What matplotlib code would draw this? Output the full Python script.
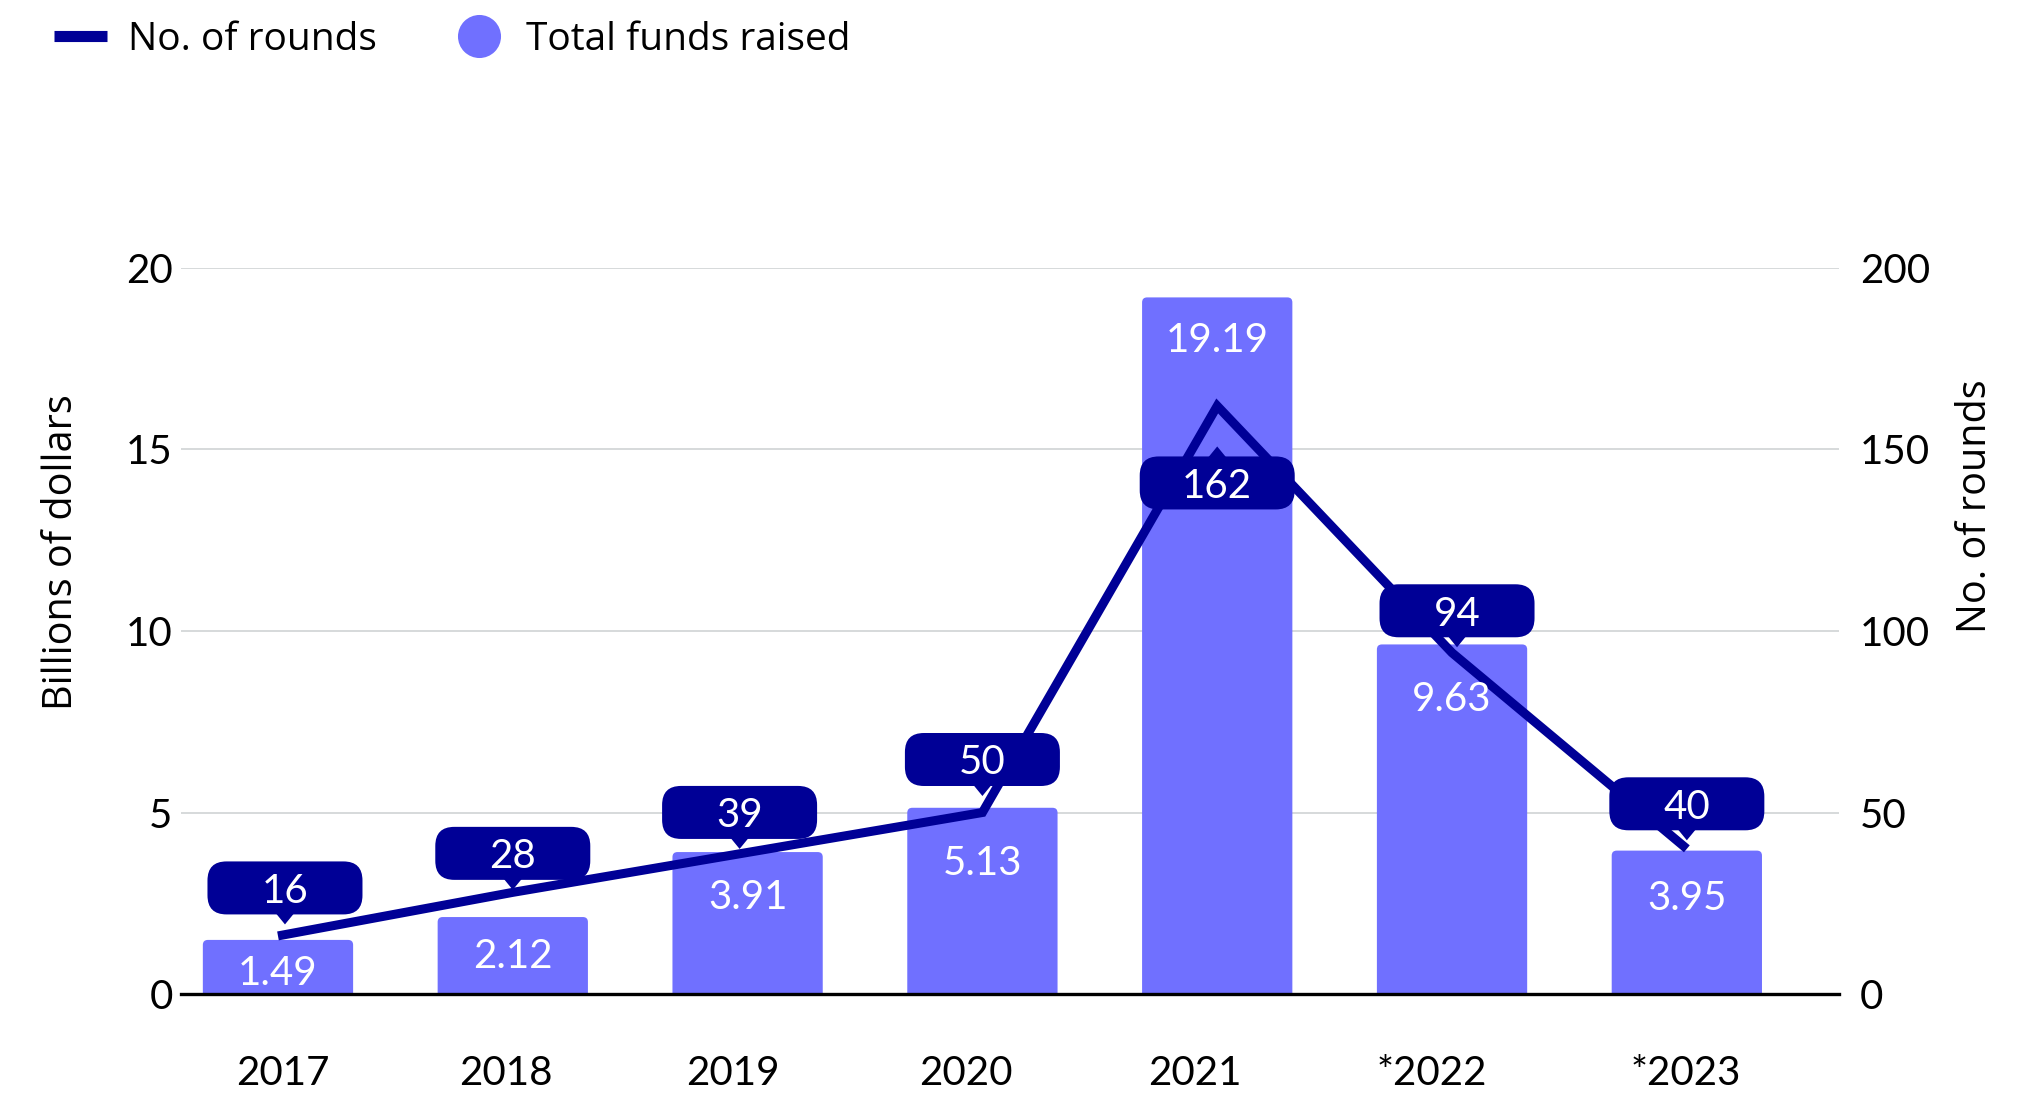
import matplotlib
matplotlib.use("Agg")
import matplotlib.pyplot as plt
import numpy as np
from matplotlib.patches import FancyBboxPatch, Polygon
from matplotlib.lines import Line2D
from matplotlib.transforms import ScaledTranslation

# ---- data -------------------------------------------------------------
years = ["2017", "2018", "2019", "2020", "2021", "*2022", "*2023"]
funds_billion = [1.49, 2.12, 3.91, 5.13, 19.19, 9.63, 3.95]
rounds = [16, 28, 39, 50, 162, 94, 40]

left_ticks = [0, 5, 10, 15, 20]
right_ticks = [0, 50, 100, 150, 200]

# ---- style ------------------------------------------------------------
BAR_COLOR = "#7070ff"
NAVY = "#000096"
GRID = "#cfd3d4"
NUM_FONT = ["Lato", "DejaVu Sans"]
TXT_FONT = ["Open Sans", "DejaVu Sans"]
plt.rcParams["font.family"] = NUM_FONT

# vertical offset (px) of each round-count callout from its point
# (negative = callout sits below the point) and small horizontal nudges
callout_offset_px = [48, 39, 40, 53, -77, 42, 45]
callout_dx_px = [7, 0, -8, 0, 0, 5, 0]
# distance (px) of each funding label below its bar top
bar_label_drop_px = [30, 36, 42, 52, 40, 52, 44]
# horizontal nudges (px) of the year labels
year_dx_px = [5, -7, -15, -17, -22, -20, -1]

W, H, DPI = 2028, 1096, 100
fig = plt.figure(figsize=(W / DPI, H / DPI), dpi=DPI)
L, R, T, B = 181, 1839, 268, 994
ax = fig.add_axes([L / W, 1 - B / H, (R - L) / W, (B - T) / H])
ax2 = ax.twinx()

x = np.arange(len(years))
ax.set_xlim(-0.413, 6.648)
ax.set_ylim(0, 20)
ax2.set_ylim(0, 200)

# ---- bars with softly rounded tops -------------------------------------
bars = ax.bar(x, funds_billion, width=0.64, color=BAR_COLOR, zorder=2)
sx = ax.transData.transform((1, 0))[0] - ax.transData.transform((0, 0))[0]
sy = ax.transData.transform((0, 1))[1] - ax.transData.transform((0, 0))[1]
corner_px = 5
for b in bars:
    b.set_visible(False)
    ext = 8 / sy  # push the bottom corners below the baseline (clipped)
    p = FancyBboxPatch((b.get_x(), -ext), b.get_width(), b.get_height() + ext,
                       boxstyle=f"round,pad=0,rounding_size={corner_px / sx}",
                       mutation_aspect=sx / sy, fc=BAR_COLOR, ec="none",
                       zorder=2)
    ax.add_patch(p)

# ---- axes styling ------------------------------------------------------
ax.set_axisbelow(True)
ax.yaxis.grid(True, color=GRID, lw=1.2)
ax.xaxis.grid(False)
for s in ["top", "left", "right"]:
    ax.spines[s].set_visible(False)
ax.spines["bottom"].set_linewidth(2.4)
ax.spines["bottom"].set_color("black")
for s in ax2.spines.values():
    s.set_visible(False)

ax.set_xticks(x)
ax.set_xticklabels(years)
ax.set_yticks(left_ticks)
ax2.set_yticks(right_ticks)
ax.tick_params(axis="x", length=0, pad=44, labelsize=29)
ax.tick_params(axis="y", length=0, pad=6, labelsize=29)
ax2.tick_params(axis="y", length=0, pad=15, labelsize=29)
for tick, dx in zip(ax.xaxis.get_major_ticks(), year_dx_px):
    lbl = tick.label1
    lbl.set_transform(lbl.get_transform()
                      + ScaledTranslation(dx / DPI, 0, fig.dpi_scale_trans))

ax.set_ylabel("Billions of dollars", fontsize=28.5, family=TXT_FONT)
ax.yaxis.set_label_coords(-0.0718, 0.609)
ax.yaxis.label.set_va("center")
ax2.set_ylabel("No. of rounds", fontsize=28.5, family=TXT_FONT)
ax2.yaxis.set_label_coords(1.0826, 0.672)
ax2.yaxis.label.set_va("center")
ax2.yaxis.label.set_rotation(90)

# ---- line for the number of rounds --------------------------------------
ax2.plot(x, rounds, color=NAVY, lw=6.5, solid_joinstyle="miter",
         solid_capstyle="butt", zorder=3)

# ---- funding labels inside the bars -------------------------------------
for xi, v, drop in zip(x, funds_billion, bar_label_drop_px):
    t = fig.dpi_scale_trans + ScaledTranslation(xi, v, ax.transData)
    ax2.text(0, -drop / DPI, f"{v:.2f}", transform=t, ha="center",
             va="center_baseline", color="white", fontsize=29, zorder=6)

# ---- callouts for the number of rounds ----------------------------------
box_w, box_h, box_r = 1.55, 0.53, 0.19
ptr_w, ptr_h = 0.18, 0.10
for xi, v, off, dx in zip(x, rounds, callout_offset_px, callout_dx_px):
    t = fig.dpi_scale_trans + ScaledTranslation(xi, v, ax2.transData)
    oc, cx = off / DPI, dx / DPI
    box = FancyBboxPatch((cx - box_w / 2, oc - box_h / 2), box_w, box_h,
                         boxstyle=f"round,pad=0,rounding_size={box_r}",
                         transform=t, fc=NAVY, ec="none", zorder=4)
    ax2.add_patch(box)
    if off > 0:
        yb = oc - box_h / 2
        tri = [(cx - ptr_w / 2, yb + 0.01), (cx + ptr_w / 2, yb + 0.01),
               (cx, yb - ptr_h)]
    else:
        yt = oc + box_h / 2
        tri = [(cx - ptr_w / 2, yt - 0.01), (cx + ptr_w / 2, yt - 0.01),
               (cx, yt + ptr_h)]
    ax2.add_patch(Polygon(tri, closed=True, transform=t, fc=NAVY, ec="none",
                          zorder=4))
    ax2.text(cx, oc, str(v), transform=t, ha="center", va="center_baseline",
             color="white", fontsize=29, zorder=5)

# ---- legend --------------------------------------------------------------
handles = [
    Line2D([], [], color=NAVY, lw=8, solid_capstyle="butt"),
    Line2D([], [], marker="o", ls="none", ms=31, mfc=BAR_COLOR, mec="none"),
]
fig.legend(handles, ["No. of rounds", "Total funds raised"],
           loc="center left", bbox_to_anchor=(54 / W, 1 - 40 / H),
           ncol=2, frameon=False, handlelength=1.35,
           handletextpad=0.55, columnspacing=1.95, borderpad=0,
           borderaxespad=0, prop={"family": TXT_FONT, "size": 28})

fig.savefig("out.png", dpi=DPI)
